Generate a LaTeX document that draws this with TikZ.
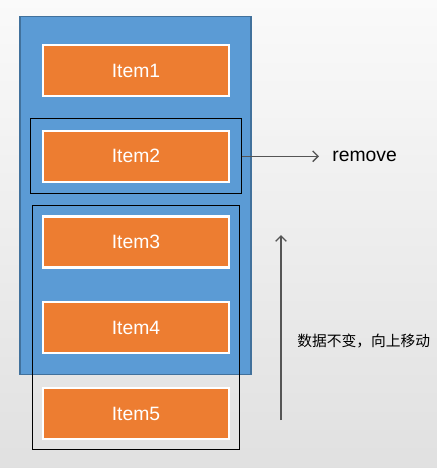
\documentclass[tikz,border=0pt]{standalone}
\usepackage{fontspec}
\setmainfont{Liberation Sans}
\newfontfamily\cjk{Noto Sans CJK SC}
\usetikzlibrary{arrows.meta,fit}
\definecolor{listblue}{HTML}{5B9BD5}
\definecolor{listedge}{HTML}{41719C}
\definecolor{itemorange}{HTML}{ED7D31}
\definecolor{arrowgray}{HTML}{555555}
\tikzset{
    listbox/.style={fill=listblue, draw=listedge, line width=0.6pt},
    item/.style={fill=itemorange, draw=white, line width=1.2pt,
        minimum width=3.72cm, minimum height=1.02cm, inner sep=0pt,
        text=white, font=\fontsize{11}{13}\selectfont},
    frame/.style={draw=black, line width=0.6pt, inner sep=6.3pt},
    move/.style={->, draw=arrowgray, line width=0.8pt},
}
\begin{document}
\begin{tikzpicture}[x=0.02cm, y=-0.02cm, >={Straight Barb[length=3pt,width=6pt]}]
    % background
    \shade[top color=white!98!black, bottom color=white!88!black]
        (0,0) rectangle (437,468);
    \useasboundingbox (0,0) rectangle (437,468);
    % list container
    \node[listbox, minimum width=4.62cm, minimum height=7.18cm] (list) at (135.5,195.5) {};
    % items
    \foreach \i in {1,...,5}
        \node[item] (item\i) at (136,{70.5+85.75*(\i-1)}) {Item\i};
    % frames
    \node[frame, fit=(item2)] (sel) {};
    \node[frame, inner sep=5.6pt, fit=(item3)(item5)] (rest) {};
    % remove
    \node[anchor=west, inner sep=0pt, font=\fontsize{11}{13}\selectfont] (remove) at (332,156.5) {remove};
    \draw[move] (sel.east) -- ([xshift=-0.26cm]remove.west |- sel.east);
    % move up
    \coordinate (up0) at (281,420);
    \coordinate (up1) at (281,235);
    \draw[move] (up0) -- (up1);
    \node[anchor=west, inner sep=0pt, font=\cjk\fontsize{8.4}{10}\selectfont] (note) at (297,341) {数据不变，向上移动};
\end{tikzpicture}
\end{document}
